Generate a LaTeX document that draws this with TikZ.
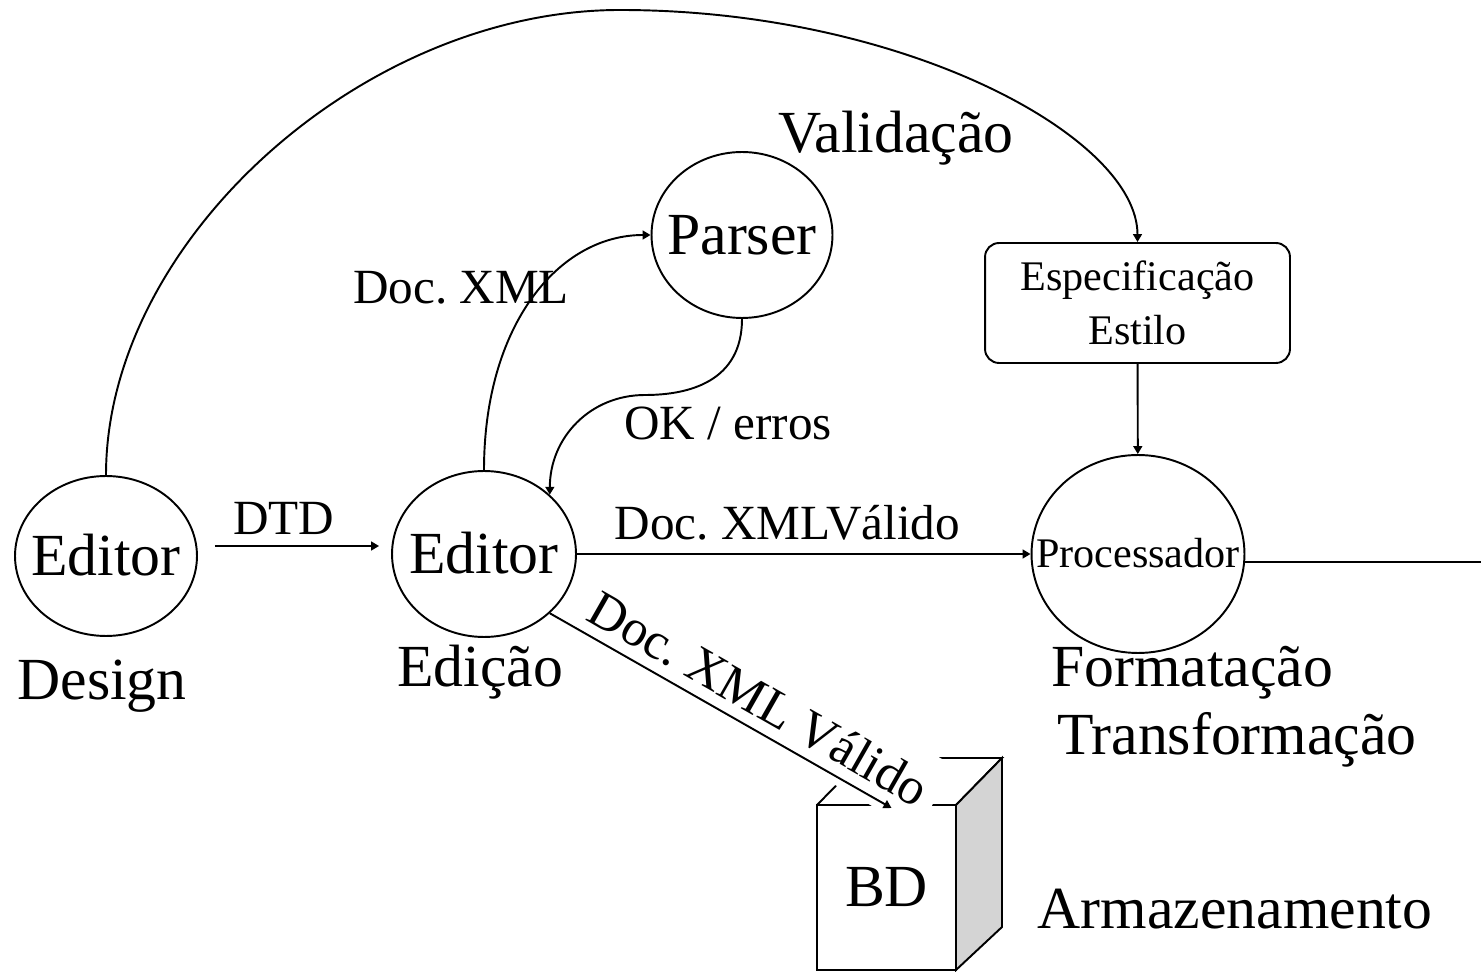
\documentclass[tikz,border=0pt]{standalone}
\usepackage{fontspec}
\setmainfont{Liberation Serif}
\usetikzlibrary{shapes.geometric,arrows.meta}
\definecolor{cubeside}{RGB}{212,212,212}
\tikzset{
  bigfont/.style={font=\fontsize{34}{40}\selectfont},
  midfont/.style={font=\fontsize{28}{32}\selectfont},
  smallfont/.style={font=\fontsize{24}{31}\selectfont},
  proc/.style={draw, ellipse, inner sep=0pt, text height=22pt, text depth=0pt},
  arr/.style={-{Triangle[length=4.5pt,width=5pt]}},
  lbl/.style={inner sep=1pt}
}
\begin{document}
\frenchspacing
\begin{tikzpicture}[x=0.02cm, y=-0.02cm, line width=1.1pt]
\useasboundingbox (0,0) rectangle (1481,972);
% processos
\node[proc, bigfont, minimum width=3.64cm, minimum height=3.2cm] (design) at (106,556) {\makebox[0pt]{Editor}};
\node[proc, bigfont, minimum width=3.68cm, minimum height=3.32cm] (edit) at (484,554) {\makebox[0pt]{Editor}};
\node[proc, bigfont, minimum width=3.62cm, minimum height=3.32cm] (parser) at (742,235) {\makebox[0pt]{Parser}};
\node[proc, smallfont, text height=15.6pt, minimum width=4.26cm, minimum height=3.96cm] (proc) at (1138,554) {\makebox[0pt]{Processador}};
\node[draw, rounded corners=8pt, smallfont, align=center, minimum width=6.1cm, minimum height=2.4cm] (estilo) at (1137.5,303) {Especificação\\Estilo};
% BD
\node[draw, outer sep=0pt, bigfont, minimum width=2.78cm, minimum height=3.3cm] (bd) at (886.5,887.5) {BD};
\draw (bd.north west) -- ++(46,-47) -- ++(139,0) -- (bd.north east);
\filldraw[fill=cubeside] (bd.north east) -- ++(46,-47) -- ++(0,169) -- (bd.south east) -- cycle;
% fases
\node[bigfont, anchor=base] (design-lbl) at (102,700) {Design};
\node[bigfont, anchor=base] (edit-lbl) at (480,687) {Edição};
\node[bigfont, anchor=base] (valid-lbl) at (896,153) {Validação};
\node[bigfont, anchor=base] (form-lbl) at (1192,687) {Formatação};
\node[bigfont, anchor=base] (trans-lbl) at (1237,755) {Transformação};
\node[bigfont, anchor=base] (arm-lbl) at (1235,928) {Armazenamento};
\node[midfont, anchor=base] (xml-lbl) at (461,304) {Doc. XML};
\node[midfont, anchor=base] (ok-lbl) at (728,440) {OK / erros};
% fluxos
\coordinate (topo) at (620,10);
\draw[arr] (design.north) .. controls +(0,-234) and +(-257,0) .. (topo)
      .. controls +(284,0) and +(0,-105) .. (estilo.north);
\draw[arr] (estilo) -- (proc);
\draw[arr] ([shift={(17,-10)}]design.east) -- ([shift={(-12,-8)}]edit.west)
      node[lbl, midfont, pos=0.42, above=5pt] {DTD};
\draw[arr] (edit) -- (proc) node[lbl, midfont, pos=0.464, above=6pt] {Doc. XMLVálido};
\coordinate (saida) at (1481,562);
\draw (proc.east |- saida) -- (saida);
\draw[arr] (edit.north) .. controls +(0,-145) and +(-92,0) .. (parser.west);
\coordinate (okmid) at (645,395);
\draw[arr] (parser.south) .. controls +(0,62) and +(45,0) .. (okmid)
      .. controls +(-55,0) and +(0,-57) .. (edit.42);
\draw[arr] (edit.-42) -- ([shift={(5,3)}]bd.north)
      node[behind path, sloped, pos=0.57, fill=white, inner xsep=7pt, inner ysep=11pt,
           yshift=17pt, font=\fontsize{29.5}{34}\selectfont] {Doc. XML Válido};
\end{tikzpicture}
\end{document}
